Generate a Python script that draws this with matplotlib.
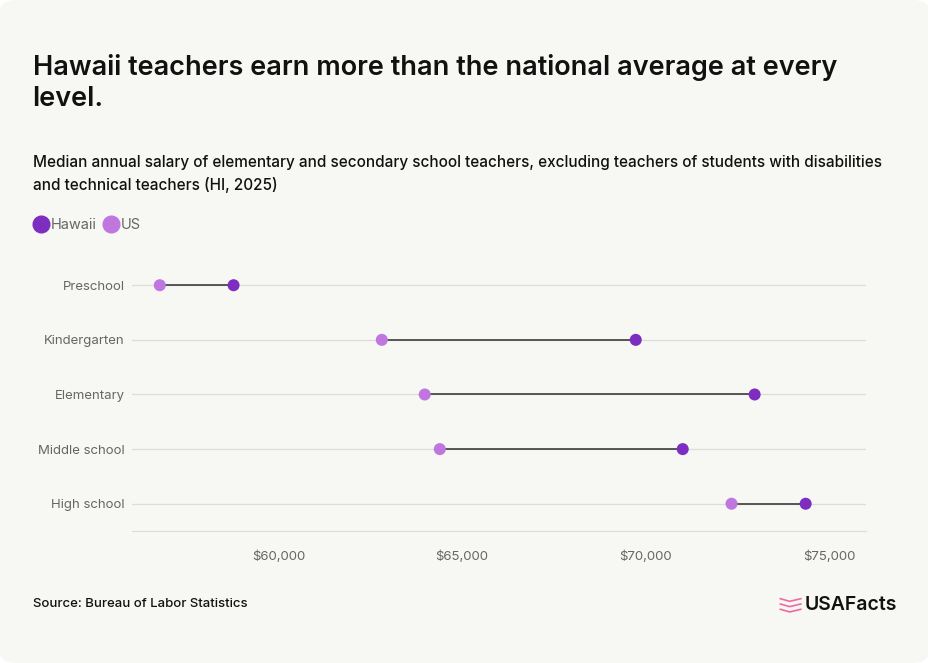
import matplotlib.pyplot as plt
import numpy as np
from matplotlib.patches import FancyBboxPatch
from matplotlib.lines import Line2D

plt.rcParams['font.family'] = ['Inter', 'DejaVu Sans']

levels = ["Preschool", "Kindergarten", "Elementary", "Middle school", "High school"]
hawaii = [58770, 69730, 72970, 71010, 74360]
us = [56760, 62810, 63980, 64390, 72340]
xticks = [60000, 65000, 70000, 75000]

hawaii_color = "#7d2ec1"
us_color = "#bf76de"
card = "#f7f7f3"

fig = plt.figure(figsize=(9.29, 6.63), dpi=100)
fig.patch.set_facecolor("white")
fig.patches.append(FancyBboxPatch((0.0, 0.0), 1.0, 1.0, boxstyle="round,pad=0,rounding_size=0.018",
                                  transform=fig.transFigure, facecolor=card, edgecolor="none", zorder=-10))

ax = fig.add_axes([0.142, 0.199, 0.79, 0.412])
ax.set_facecolor(card)

y = np.arange(len(levels))
for i in range(len(levels)):
    ax.plot([us[i], hawaii[i]], [y[i], y[i]], color="#555555", lw=1.4, zorder=2)
ax.scatter(us, y, s=75, color=us_color, zorder=3, edgecolors="none")
ax.scatter(hawaii, y, s=75, color=hawaii_color, zorder=3, edgecolors="none")

ax.set_xlim(56000, 76000)
ax.set_ylim(len(levels) - 0.5, -0.5)
ax.set_yticks(y)
ax.set_yticklabels(levels)
ax.set_xticks(xticks)
ax.set_xticklabels(["${:,}".format(v) for v in xticks])
ax.tick_params(length=0, labelsize=9.5, labelcolor="#666666")
ax.tick_params(axis="x", pad=14)
ax.tick_params(axis="y", pad=5)
ax.grid(axis="y", color="#dcdcd8", lw=0.9, zorder=0)
for s in ["top", "right", "left"]:
    ax.spines[s].set_visible(False)
ax.spines["bottom"].set_color("#dcdcd8")

fig.text(0.035, 0.875, "Hawaii teachers earn more than the national average at every\nlevel.",
         fontsize=19.5, fontweight="semibold", color="#111111", va="center", linespacing=1.25)
fig.text(0.035, 0.738, "Median annual salary of elementary and secondary school teachers, excluding teachers of students with disabilities\nand technical teachers (HI, 2025)",
         fontsize=11, fontweight="medium", color="#111111", va="center", linespacing=1.55)

handles = [Line2D([], [], marker="o", ls="none", ms=12, color=hawaii_color, label="Hawaii"),
           Line2D([], [], marker="o", ls="none", ms=12, color=us_color, label="US")]
fig.legend(handles=handles, loc="center left", bbox_to_anchor=(0.037, 0.66), ncol=2, frameon=False,
           borderpad=0, borderaxespad=0, handlelength=0.9, handletextpad=0.25, columnspacing=0.5,
           fontsize=10.5, labelcolor="#666666")

fig.text(0.035, 0.089, "Source: Bureau of Labor Statistics", fontsize=9.5, fontweight="medium", color="#111111", va="center")
fig.text(0.966, 0.088, "USAFacts", fontsize=14, fontweight="semibold", color="#111111", va="center", ha="right")
# small pink flag mark next to the logo text
for k in range(3):
    fig.add_artist(Line2D([0.840, 0.850, 0.862], [0.097 - k * 0.008, 0.093 - k * 0.008, 0.097 - k * 0.008],
                          transform=fig.transFigure, color="#ee6aa7", lw=1.2))

plt.savefig("out.png", dpi=100, facecolor=fig.get_facecolor())
